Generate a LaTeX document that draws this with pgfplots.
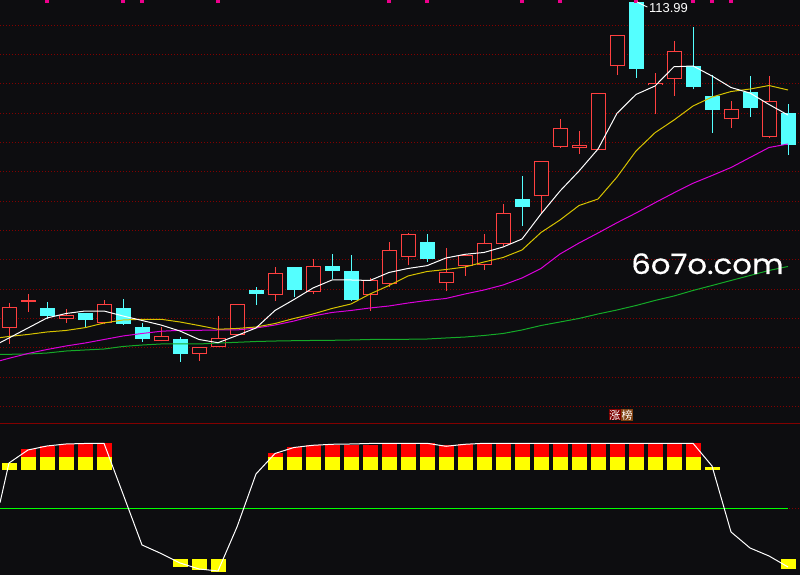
\documentclass[border=0pt]{standalone}
\usepackage{pgfplots}
\pgfplotsset{compat=1.18}
\usepackage{pgfplotstable}
\usepackage{fontspec}
\setmainfont{Liberation Sans}
\newfontfamily\wmfont[FakeBold=0.5]{Poppins}
\newfontfamily\cjk{Noto Sans CJK SC}

\definecolor{bg}{RGB}{13,13,16}
\definecolor{gridred}{RGB}{130,0,0}
\definecolor{upc}{RGB}{255,64,64}
\definecolor{dnc}{RGB}{84,255,255}
\definecolor{ma5}{RGB}{255,255,255}
\definecolor{ma10}{RGB}{215,195,0}
\definecolor{ma20}{RGB}{220,0,220}
\definecolor{ma60}{RGB}{20,170,40}
\definecolor{kgreen}{RGB}{0,255,0}
\definecolor{kyel}{RGB}{255,255,0}
\definecolor{kred}{RGB}{255,0,0}
\definecolor{tagred}{RGB}{125,0,0}
\definecolor{tagbrown}{RGB}{128,64,16}

% candles: index, open, high, low, close
\pgfplotstableread{
i o h l c
0 73.28 76.33 71.24 75.83
1 76.53 77.45 75.28 76.78
3 74.40 75.61 73.90 74.83
5 73.90 76.74 73.70 76.20
8 71.58 73.36 71.58 72.20
10 70.03 70.83 69.15 70.83
11 70.83 74.74 70.83 71.95
12 72.40 76.20 72.40 76.20
14 77.33 80.86 76.65 80.08
16 77.78 81.86 77.49 80.95
19 77.40 79.45 75.40 79.20
20 78.70 83.99 78.40 82.95
21 82.08 85.11 81.08 84.95
23 78.83 83.20 77.83 80.20
24 80.95 82.33 79.74 82.33
25 81.08 84.99 80.53 83.83
26 83.78 88.74 83.45 87.58
28 89.70 94.08 87.65 94.08
29 95.90 99.36 95.78 98.20
30 95.70 97.86 95.03 96.08
31 95.45 102.58 95.45 102.58
32 105.95 109.87 104.90 109.87
34 103.58 105.11 100.03 103.86
35 104.40 109.11 102.28 107.83
38 99.33 101.61 98.28 100.61
40 97.08 104.74 96.95 101.61
}\upk

\pgfplotstableread{
i o h l c
2 75.74 76.49 74.33 74.74
4 75.11 75.11 73.36 74.24
6 75.74 76.86 73.65 73.78
7 73.36 73.83 71.53 71.90
9 71.86 72.08 69.03 70.03
13 77.99 78.33 76.15 77.53
15 80.86 80.86 77.15 78.03
17 80.99 82.49 79.33 80.40
18 80.36 82.36 76.65 76.78
22 83.99 85.03 81.53 81.90
27 89.36 92.24 86.03 88.40
33 113.99 113.99 104.53 105.65
36 106.03 110.90 103.08 103.40
37 102.24 104.86 97.65 100.53
39 102.74 104.74 99.65 100.78
41 100.11 101.24 94.90 96.15
}\dnk

% moving averages
\pgfplotstableread{
i ma5 ma10 ma20 ma60
-0.474 71.40 72.03 69.15 69.95
0 71.99 72.18 69.45 69.95
1 73.24 72.43 70.05 69.99
2 74.49 72.74 70.55 70.11
3 75.05 72.93 70.99 70.36
4 75.36 73.28 71.36 70.49
5 75.36 73.86 71.80 70.61
6 74.74 74.24 72.24 70.93
7 74.18 74.33 72.55 71.11
8 73.61 74.33 72.83 71.24
9 72.86 73.99 72.95 71.24
10 71.80 73.55 72.95 71.24
11 71.40 73.08 72.99 71.36
12 72.30 73.18 72.99 71.45
13 73.24 73.36 73.24 71.55
14 75.43 73.80 73.61 71.61
15 76.80 74.43 74.11 71.65
16 78.24 74.99 74.74 71.68
17 79.24 75.68 75.18 71.70
18 79.24 76.24 75.43 71.74
19 79.18 77.49 75.74 71.80
20 80.18 78.55 75.99 71.83
21 80.68 79.74 76.36 71.83
22 81.03 80.30 76.68 71.86
23 81.99 80.55 76.93 71.99
24 82.45 80.86 77.49 72.11
25 82.68 81.49 77.99 72.30
26 83.36 82.05 78.61 72.55
27 84.36 82.99 79.49 72.99
28 87.49 85.18 80.68 73.55
29 90.36 86.74 82.49 73.99
30 92.86 88.55 83.86 74.43
31 95.61 89.36 85.11 74.99
32 100.08 92.11 86.40 75.49
33 102.43 95.36 87.61 76.05
34 103.49 97.65 88.90 76.68
35 105.90 99.24 90.14 77.24
36 105.99 100.99 91.33 77.93
37 104.74 102.11 92.30 78.55
38 103.30 102.80 93.30 79.18
39 102.61 103.11 94.55 79.80
40 101.18 103.55 95.80 80.43
41 99.86 102.99 96.24 80.93
}\mas

% lower indicator
\pgfplotstableread{
i v
-0.474 54.48
0 86.24
1 96.64
2 99.84
3 101.44
4 101.84
5 102
6 61.44
7 20.64
8 13.84
9 6.24
10 1.44
11 -0.16
12 35.04
13 77.44
14 93.84
15 98.64
16 100.4
17 101.2
18 101.44
19 101.84
20 102
21 102
22 102
23 99.6
24 101.2
25 102
26 102
27 102
28 102
29 102
30 102
31 102
32 102
33 102
34 102
35 102
36 102
37 83.84
38 31.04
39 18.24
40 11.84
41 3.04
}\kline

\pgfplotstableread{
i b t
0 80.64 86.24
1 80.64 91.04
2 80.64 91.04
3 80.64 91.04
4 80.64 91.04
5 80.64 91.04
9 3.28 9.44
10 0.88 9.44
11 -0.72 9.44
14 80.64 91.04
15 80.64 91.04
16 80.64 91.04
17 80.64 91.04
18 80.64 91.04
19 80.64 91.04
20 80.64 91.04
21 80.64 91.04
22 80.64 91.04
23 80.64 91.04
24 80.64 91.04
25 80.64 91.04
26 80.64 91.04
27 80.64 91.04
28 80.64 91.04
29 80.64 91.04
30 80.64 91.04
31 80.64 91.04
32 80.64 91.04
33 80.64 91.04
34 80.64 91.04
35 80.64 91.04
36 80.64 91.04
37 80.64 83.04
41 1.68 9.44
}\ybars

\pgfplotstableread{
i b t
1 91.04 97.44
2 91.04 99.6
3 91.04 101.44
4 91.04 101.04
5 91.04 102.24
14 91.04 94.24
15 91.04 99.04
16 91.04 100.4
17 91.04 100.88
18 91.04 100.88
19 91.04 100.88
20 91.04 101.68
21 91.04 102
22 91.04 102
23 91.04 100.64
24 91.04 101.2
25 91.04 102
26 91.04 102
27 91.04 102
28 91.04 102
29 91.04 102
30 91.04 102
31 91.04 102
32 91.04 102
33 91.04 102
34 91.04 102
35 91.04 102
36 91.04 102
}\rbars

\pgfplotsset{
  panel/.style={scale only axis, width=800pt,
    xmin=-0.4737, xmax=41.6316,
    axis background/.style={fill=bg},
    axis line style={draw=none},
    xtick=\empty, yticklabel=\empty, major tick length=0pt,
    ytick style={draw=none},
    ymajorgrids, grid style={gridred, dash pattern=on 1pt off 2pt, line width=1pt},
    clip marker paths=true},
  % vertical segment from y to y+error, drawn as an error bar
  seg/.style 2 args={draw=none, mark=none, forget plot,
    error bars/.cd, y dir=plus, y explicit, error mark=none,
    error bar style={line width=#1, draw=#2}},
}

\begin{document}
\begin{tikzpicture}
\begin{axis}[panel, name=top, height=423pt,
  ymin=61.365, ymax=114.24,
  ytick={63.44,67.11,70.77,74.44,78.10,81.77,85.43,89.10,92.76,96.43,100.09,103.76,107.42,111.09}]

% red (rising) candles: wick, outline, hollow inside
\addplot[seg={1pt}{upc}] table[x=i, y=l, y error expr=\thisrow{h}-\thisrow{l}] {\upk};
\addplot[seg={15pt}{upc}] table[x=i, y=o, y error expr=\thisrow{c}-\thisrow{o}] {\upk};
\addplot[seg={13pt}{bg}] table[x=i, y expr=\thisrow{o}+0.125, y error expr={max(\thisrow{c}-\thisrow{o}-0.25,0)}] {\upk};

% cyan (falling) candles
\addplot[seg={1pt}{dnc}] table[x=i, y=l, y error expr=\thisrow{h}-\thisrow{l}] {\dnk};
\addplot[seg={15pt}{dnc}] table[x=i, y=c, y error expr=\thisrow{o}-\thisrow{c}] {\dnk};

% moving averages
\addplot[ma60, line width=1pt, mark=none] table[x=i, y=ma60] {\mas};
\addplot[ma20, line width=1pt, mark=none] table[x=i, y=ma20] {\mas};
\addplot[ma10, line width=1pt, mark=none] table[x=i, y=ma10] {\mas};
\addplot[ma5, line width=1pt, mark=none] table[x=i, y=ma5] {\mas};

% markers on the top edge
\addplot[only marks, mark=square*, mark size=1.6pt, color=magenta, forget plot]
  coordinates {(2,114.2) (6,114.2) (7,114.2) (11,114.2) (20,114.2) (22,114.2)
               (27,114.2) (29,114.2) (33,114.2) (36,114.2) (37,114.2) (38,114.2)};

\draw[white, line width=0.8pt] (axis cs:33.05,114.0) -- (axis cs:33.3,113.7) -- (axis cs:33.6,113.35);
\node[anchor=west, inner sep=0pt, text=white, font=\fontsize{13}{13}\selectfont]
  at (axis cs:33.68,113.24) {113.99};

\node[anchor=base west, inner sep=0pt, text=white, xscale=1.1,
  font=\wmfont\fontsize{28}{28}\selectfont] at (axis cs:32.74,79.99) {6o7o.com};

\node[fill=tagred, text=white, inner sep=0.5pt, font=\cjk\fontsize{11}{11}\selectfont]
  at (axis cs:31.89,62.37) {涨};
\node[fill=tagbrown, text=white, inner sep=0.5pt, font=\cjk\fontsize{11}{11}\selectfont]
  at (axis cs:32.53,62.37) {榜};
\end{axis}

\begin{axis}[panel, name=bot, height=152pt, at={(top.south west)}, anchor=north west,
  ymin=-3.36, ymax=118.24, ytick={50},
  extra y ticks={117.9}, extra y tick style={grid style={gridred, solid, line width=1pt}}]
\addplot[seg={15pt}{kyel}] table[x=i, y=b, y error expr=\thisrow{t}-\thisrow{b}] {\ybars};
\addplot[seg={15pt}{kred}] table[x=i, y=b, y error expr=\thisrow{t}-\thisrow{b}] {\rbars};
\addplot[kgreen, line width=1pt, mark=none] coordinates {(-0.474,50) (41,50)};
\addplot[white, line width=1pt, mark=none] table[x=i, y=v] {\kline};
\end{axis}
\pgfresetboundingbox
\path[use as bounding box] (top.north west) rectangle (bot.south east);
\end{tikzpicture}
\end{document}
